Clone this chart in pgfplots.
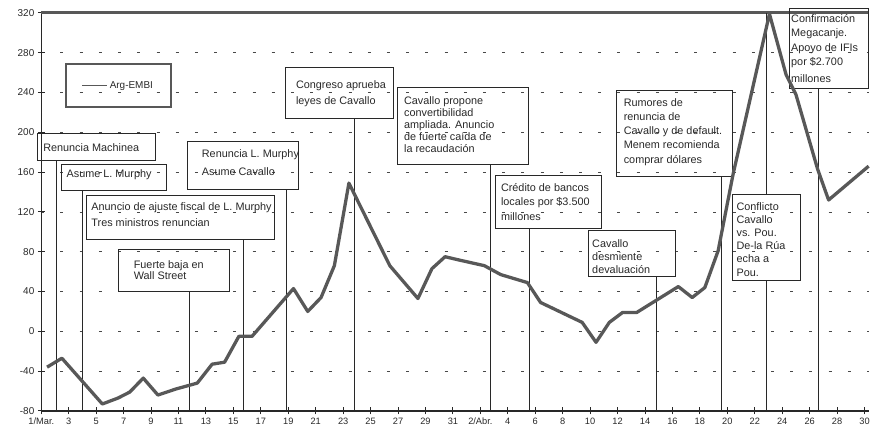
\documentclass[border=0pt]{standalone}
\usepackage{fontspec}
\setmainfont{Liberation Sans}
\usepackage{pgfplots}
\pgfplotsset{compat=1.18}
\definecolor{ink}{RGB}{40,40,40}
\definecolor{plotgray}{RGB}{88,88,88}
\tikzset{
  ann/.style={draw=ink, line width=0.8pt},
  atext/.style={anchor=north west, inner sep=0pt, align=left, text=ink},
}
\newcommand{\af}[1]{\fontsize{10.9}{#1}\selectfont}
\begin{document}
\begin{tikzpicture}
\begin{axis}[
  scale only axis, width=831.5pt, height=400pt,
  xmin=0, xmax=60.3, ymin=-80, ymax=320,
  axis x line*=bottom, axis y line*=left,
  axis line style={-, draw=ink, line width=1.2pt},
  xtick={0,2,...,60},
  xticklabels={1/Mar.,3,5,7,9,11,13,15,17,19,21,23,25,27,29,31,2/Abr.,4,6,8,10,12,14,16,18,20,22,24,26,28,30},
  ytick={-80,-40,...,320},
  yticklabels={-80,-40,0,40,80,120,160,200,240,280,320},
  tick align=center, major tick length=7pt,
  tick style={ink, line width=0.9pt},
  ymajorgrids, grid style={ink!85, line width=0.8pt, dash pattern=on 3pt off 16.3pt},
  xticklabel style={font=\fontsize{9.3}{10}\selectfont, text=ink},
  yticklabel style={font=\fontsize{10}{11}\selectfont, text=ink},
  clip=false,
  legend style={at={(axis cs:1.70,270)}, anchor=north west, draw=plotgray, line width=2.2pt,
    inner xsep=16pt, inner ysep=15.5pt, font=\fontsize{10}{11}\selectfont, text=ink, fill=none},
  legend image code/.code={\draw[plotgray, line width=1.3pt] (0pt,0pt) -- (25pt,0pt);},
]
% top border
\draw[plotgray, line width=3pt] (rel axis cs:0,1) -- (rel axis cs:1,1);
% connector lines
\draw[ann] (axis cs:1.09,172) -- (axis cs:1.09,-80);
\draw[ann] (axis cs:2.99,142) -- (axis cs:2.99,-80);
\draw[ann] (axis cs:14.76,92) -- (axis cs:14.76,-80);
\draw[ann] (axis cs:10.77,40) -- (axis cs:10.77,-80);
\draw[ann] (axis cs:17.90,143) -- (axis cs:17.90,-80);
\draw[ann] (axis cs:22.81,214) -- (axis cs:22.81,-80);
\draw[ann] (axis cs:32.71,168) -- (axis cs:32.71,-80);
\draw[ann] (axis cs:35.61,103) -- (axis cs:35.61,-80);
\draw[ann] (axis cs:44.85,55) -- (axis cs:44.85,-80);
\draw[ann] (axis cs:49.57,156) -- (axis cs:49.57,-80);
\draw[ann] (axis cs:52.83,320) -- (axis cs:52.83,138);
\draw[ann] (axis cs:52.83,51) -- (axis cs:52.83,-80);
\draw[ann] (axis cs:56.67,244) -- (axis cs:56.67,-80);
% boxes
\draw[ann] (axis cs:-0.25,199) rectangle (axis cs:8.30,172);
\draw[ann] (axis cs:1.49,168) rectangle (axis cs:9.10,142);
\draw[ann] (axis cs:3.30,137) rectangle (axis cs:17.01,92);
\draw[ann] (axis cs:5.62,82) rectangle (axis cs:13.74,40);
\draw[ann] (axis cs:10.62,191) rectangle (axis cs:18.75,143);
\draw[ann] (axis cs:17.80,265) rectangle (axis cs:25.64,214);
\draw[ann] (axis cs:25.93,245) rectangle (axis cs:35.50,168);
\draw[ann] (axis cs:33.11,157) rectangle (axis cs:40.79,103);
\draw[ann] (axis cs:39.85,101) rectangle (axis cs:46.23,55);
\draw[ann] (axis cs:41.88,242) rectangle (axis cs:50.37,156);
\draw[ann] (axis cs:50.37,138) rectangle (axis cs:55.30,51);
\draw[ann] (axis cs:54.50,325) rectangle (axis cs:60.30,244);
% texts
\node[atext, font=\af{12}] at (axis cs:0.13,189) {Renuncia Machinea};
\node[atext, font=\af{12}] at (axis cs:1.83,162.3) {Asume L. Murphy};
\node[atext, font=\af{16.7}] at (axis cs:3.64,129.7) {Anuncio de ajuste fiscal de L. Murphy\\Tres ministros renuncian};
\node[atext, font=\af{11}] at (axis cs:6.73,71.3) {Fuerte baja en\\Wall Street};
\node[atext, font=\af{18.3}] at (axis cs:11.69,183) {Renuncia L. Murphy\\Asume Cavallo};
\node[atext, font=\af{16}] at (axis cs:18.55,252.3) {Congreso aprueba\\leyes de Cavallo};
\node[atext, font=\af{12}] at (axis cs:26.43,236.3) {Cavallo propone\\convertibilidad\\ampliada. Anuncio\\de fuerte caída de\\la recaudación};
\node[atext, font=\af{14.5}] at (axis cs:33.49,148.7) {Crédito de bancos\\locales por \$3.500\\millones};
\node[atext, font=\af{13.2}] at (axis cs:40.14,92.3) {Cavallo\\desmiente\\devaluación};
\node[atext, font=\af{14.2}] at (axis cs:42.44,234) {Rumores de\\renuncia de\\Cavallo y de default.\\Menem recomienda\\comprar dólares};
\node[atext, font=\af{13.2}] at (axis cs:50.66,129.7) {Conflicto\\Cavallo\\vs. Pou.\\De-la Rúa\\echa a\\Pou.};
\node[atext, font=\af{14.4}] at (axis cs:54.64,318.7) {Confirmación\\Megacanje.\\Apoyo de IFIs\\por \$2.700\\[3pt]millones};
% data
\addplot[plotgray, line width=3.3pt, line join=round] coordinates {
(0.42,-36) (1.5,-27) (4.45,-73) (5.6,-67) (6.45,-61) (7.43,-47) (8.5,-64)
(9.8,-58) (11.37,-52) (12.45,-33) (13.36,-31) (14.4,-5) (15.36,-5) (18.38,43)
(19.42,20) (20.39,34) (21.36,66) (22.42,149) (25.4,66) (27.45,33) (28.47,63)
(29.43,75) (30.35,72) (32.29,66) (33.49,57) (35.43,49) (36.39,29) (39.42,9)
(40.43,-11) (41.4,9) (42.37,19) (43.4,19) (46.43,45) (47.44,34) (48.36,44)
(49.33,81) (50.42,158) (53.07,319) (54.28,258) (55.0,238) (56.58,163)
(57.38,132) (60.3,166)
};
\addlegendentry{Arg-EMBI}
\end{axis}
\path[use as bounding box] (-41.5pt,-17pt) rectangle (831.5pt,413pt);
\end{tikzpicture}
\end{document}
